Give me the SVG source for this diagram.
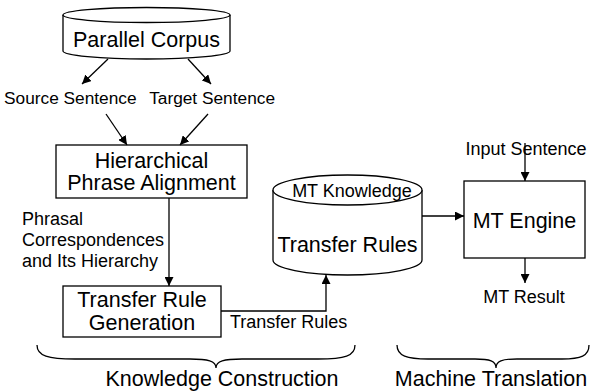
<svg xmlns="http://www.w3.org/2000/svg" width="590" height="391" viewBox="0 0 590 391">
<style>
text{font-family:"Liberation Sans",Arial,sans-serif;fill:#000}
.big{font-size:21.5px}
.mid{font-size:18px}
.box{fill:#fff;stroke:#000;stroke-width:1.3}
.ln{fill:none;stroke:#000;stroke-width:1.3}
.arr{fill:none;stroke:#000;stroke-width:1.3;marker-end:url(#ah)}
</style>
<defs>
<marker id="ah" viewBox="0 0 10 10" refX="10" refY="5" markerWidth="9" markerHeight="9" markerUnits="userSpaceOnUse" orient="auto">
<path d="M0,0 L10,5 L0,10 z" fill="#000"/>
</marker>
</defs>
<rect width="590" height="391" fill="#fff"/>

<g id="parallel-corpus">
<path class="box" d="M63,15 L63,51 A83.5,8 0 0 0 230,51 L230,15"/>
<ellipse class="box" cx="146.5" cy="15" rx="83.5" ry="7.5"/>
<text class="big" x="146.5" y="47" text-anchor="middle">Parallel Corpus</text>
</g>

<g id="source-sentence"><text class="mid" x="4" y="104" style="font-size:17.3px">Source Sentence</text></g>
<g id="target-sentence"><text class="mid" x="275" y="104" text-anchor="end" style="font-size:17.3px">Target Sentence</text></g>

<g id="hierarchical-phrase-alignment">
<rect class="box" x="56" y="145" width="191" height="53"/>
<text class="big" x="151.5" y="168" text-anchor="middle">Hierarchical</text>
<text class="big" x="151.5" y="190" text-anchor="middle">Phrase Alignment</text>
</g>

<g id="phrasal-label">
<text class="mid" x="22" y="225">Phrasal</text>
<text class="mid" x="22" y="246">Correspondences</text>
<text class="mid" x="22" y="267">and Its Hierarchy</text>
</g>

<g id="transfer-rule-generation">
<rect class="box" x="63" y="286" width="158" height="51"/>
<text class="big" x="142" y="307" text-anchor="middle">Transfer Rule</text>
<text class="big" x="142" y="330" text-anchor="middle">Generation</text>
</g>

<g id="transfer-rules-label"><text class="mid" x="230" y="328">Transfer Rules</text></g>

<g id="transfer-rules-db">
<path class="box" d="M273,190 L273,260 A74.5,15 0 0 0 422,260 L422,190"/>
<ellipse class="box" cx="347.5" cy="190" rx="74.5" ry="15"/>
<text class="mid" x="352" y="197" text-anchor="middle">MT Knowledge</text>
<text class="big" x="347.5" y="252" text-anchor="middle">Transfer Rules</text>
</g>

<g id="mt-engine">
<rect class="box" x="464" y="181" width="121" height="77"/>
<text class="big" x="524.5" y="228" text-anchor="middle">MT Engine</text>
</g>

<g id="input-sentence"><text class="mid" x="526" y="155" text-anchor="middle">Input Sentence</text></g>
<g id="mt-result"><text class="mid" x="524" y="303" text-anchor="middle">MT Result</text></g>

<g id="connectors">
<line class="arr" x1="108" y1="59" x2="82" y2="84"/>
<line class="arr" x1="188" y1="59" x2="211" y2="84"/>
<line class="arr" x1="106" y1="114" x2="127" y2="145"/>
<line class="arr" x1="208" y1="114" x2="180" y2="145"/>
<line class="arr" x1="169" y1="198" x2="169" y2="286"/>
<polyline class="arr" points="221,311 326,311 326,275"/>
<line class="arr" x1="422" y1="216" x2="464" y2="216"/>
<line class="arr" x1="525" y1="143" x2="525" y2="181"/>
<line class="arr" x1="525" y1="258" x2="525" y2="283"/>
</g>

<g id="brace-knowledge">
<path class="ln" d="M37,345 C37,356 48,359 75,359 L190,359 C208,359 216,361 216,368 C216,361 224,359 242,359 L318,359 C345,359 355,356 355,345"/>
<text class="big" x="222" y="386" text-anchor="middle">Knowledge Construction</text>
</g>

<g id="brace-machine">
<path class="ln" d="M397,345 C397,356 407,359 428,359 L475,359 C490,359 496,361 496,368 C496,361 502,359 517,359 L562,359 C581,359 589,356 589,345"/>
<text class="big" x="491" y="386" text-anchor="middle">Machine Translation</text>
</g>
</svg>
